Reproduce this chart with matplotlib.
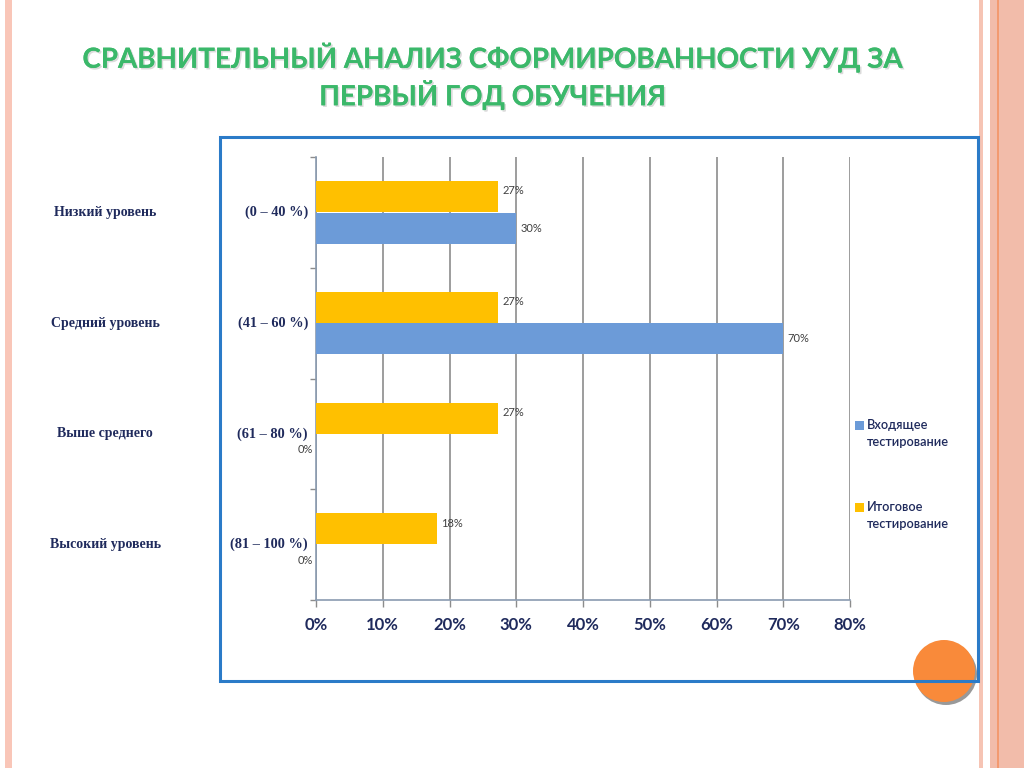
import matplotlib
matplotlib.use("Agg")
import matplotlib.pyplot as plt
from matplotlib.patches import Rectangle, Circle
import matplotlib.patheffects as pe
from matplotlib.ticker import PercentFormatter

title = "СРАВНИТЕЛЬНЫЙ АНАЛИЗ СФОРМИРОВАННОСТИ УУД ЗА\nПЕРВЫЙ ГОД ОБУЧЕНИЯ"
level_names = ["Низкий уровень", "Средний уровень", "Выше среднего", "Высокий уровень"]
level_ranges = ["(0 – 40 %)", "(41 – 60 %)", "(61 – 80 %)", "(81 – 100 %)"]
series_names = ["Входящее\nтестирование", "Итоговое\nтестирование"]
incoming = [30.0, 70.0, 0.0, 0.0]
final = [27.27, 27.27, 27.27, 18.18]
incoming_labels = ["30%", "70%", "0%", "0%"]
final_labels = ["27%", "27%", "27%", "18%"]
xticks = [0, 10, 20, 30, 40, 50, 60, 70, 80]

BLUE = "#6C9BD8"
YELLOW = "#FFC000"
NAVY = "#1F2A5C"
GREEN = "#3BB86A"

fig = plt.figure(figsize=(10.24, 7.68), dpi=100)

# decoration overlay in pixel coordinates
deco = fig.add_axes([0, 0, 1, 1], zorder=0)
deco.set_xlim(0, 1024)
deco.set_ylim(768, 0)
deco.axis("off")
deco.add_patch(Rectangle((5, 0), 7, 768, color="#F9C6B8", lw=0))
deco.add_patch(Rectangle((979, 0), 4, 768, color="#F6C4B4", lw=0))
deco.add_patch(Rectangle((990, 0), 34, 768, color="#F2BCAA", lw=0))
deco.add_patch(Rectangle((997, 0), 2, 768, color="#F39A70", lw=0))
deco.add_patch(Circle((946, 674), 31, color="#999999", lw=0, zorder=3))
deco.add_patch(Circle((944, 671), 31, color="#F98A3A", lw=0, zorder=4))
deco.add_patch(Rectangle((220, 137), 758, 544, fill=False, ec="#2B7BC8", lw=2.2, zorder=5))

fig.text(0.481, 0.901, title, ha="center", va="center", fontsize=20,
         fontweight="bold", color=GREEN, family="Lato", linespacing=1.25,
         path_effects=[pe.withSimplePatchShadow(offset=(1.2, -1.2), shadow_rgbFace="#cccccc", alpha=0.7),
                       pe.Normal()])

ax = fig.add_axes([316/1024, 1-600/768, 534/1024, 443/768], zorder=2)
ax.patch.set_alpha(0)
n = len(level_names)
ys = list(range(n))
h = 0.28
off = 0.143
ax.barh([y + off for y in ys], incoming, height=h, color=BLUE, zorder=3, label=series_names[0])
ax.barh([y - off for y in ys], final, height=h, color=YELLOW, zorder=3, label=series_names[1])

for y, v, t in zip(ys, incoming, incoming_labels):
    if v > 0:
        ax.annotate(t, (v, y + off), xytext=(3, 0), textcoords="offset points",
                    ha="left", va="center", fontsize=8, color="#404040", family="Lato")
    else:
        ax.annotate(t, (v, y + off), xytext=(-2, 0), textcoords="offset points",
                    ha="right", va="center", fontsize=8, color="#404040", family="Lato")
for y, v, t in zip(ys, final, final_labels):
    ax.annotate(t, (v, y - off), xytext=(3, 4), textcoords="offset points",
                ha="left", va="center", fontsize=8, color="#404040", family="Lato")

ax.set_xlim(0, 80)
ax.set_ylim(n - 0.5, -0.5)
ax.set_xticks(xticks)
ax.xaxis.set_major_formatter(PercentFormatter(decimals=0))
ax.set_yticks([i - 0.5 for i in range(n + 1)])
ax.set_yticklabels([])
ax.tick_params(axis="y", length=4, color="#8C8C8C", width=1)
ax.tick_params(axis="x", length=5, color="#8C8C8C", width=1, pad=7, labelsize=12,
               labelcolor=NAVY)
for lab in ax.get_xticklabels():
    lab.set_fontweight("bold")
    lab.set_family("Lato")
ax.grid(axis="x", color="#8C8C8C", lw=1.2, zorder=0)
for s in ["top", "right"]:
    ax.spines[s].set_visible(False)
ax.spines["left"].set_color("#8A9BB0")
ax.spines["bottom"].set_color("#8A9BB0")
ax.spines["left"].set_linewidth(1.2)
ax.spines["bottom"].set_linewidth(1.2)

tr = ax.get_yaxis_transform()
for y, name, rng in zip(ys, level_names, level_ranges):
    ax.text(-0.395, y, name, transform=tr, ha="center", va="center", fontsize=10,
            fontweight="bold", family="Liberation Serif", color=NAVY)
    ax.text(-0.015, y, rng, transform=tr, ha="right", va="center", fontsize=10.3,
            fontweight="bold", family="Liberation Serif", color=NAVY)

# legend: square aligned with first line of each two-line label
legend_colors = [BLUE, YELLOW]
legend_y = [426, 508]
for c, ly, name in zip(legend_colors, legend_y, series_names):
    deco.add_patch(Rectangle((855, ly - 5), 9, 9, color=c, lw=0, zorder=6))
    deco.text(867, ly - 7, name, ha="left", va="top", fontsize=9.2, family="Lato",
              fontweight="semibold", color=NAVY, linespacing=1.45, zorder=6)

fig.savefig("out.png", dpi=100)
